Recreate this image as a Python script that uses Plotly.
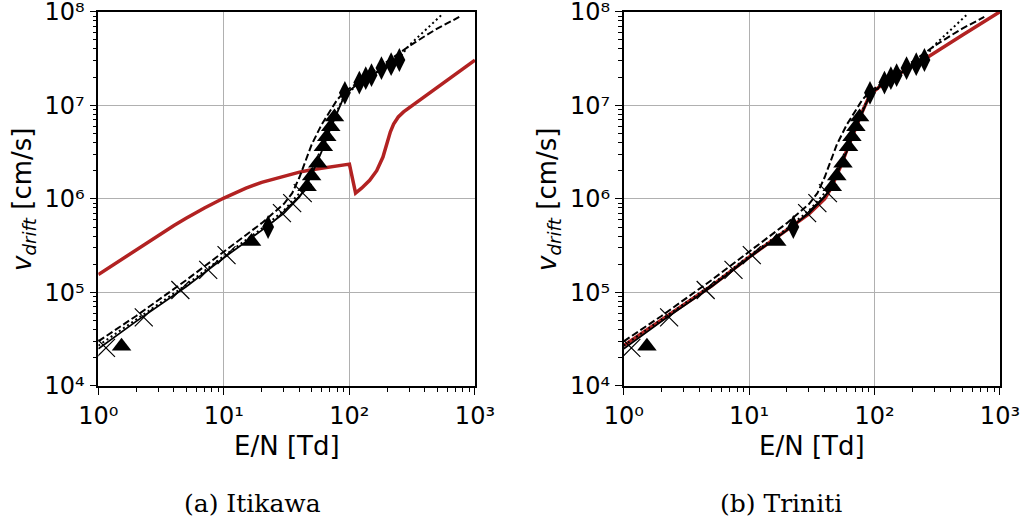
import plotly.graph_objects as go

# ---------------- data ----------------
# experimental markers (shared by both panels)
cross_x = [1.15, 2.3, 4.5, 7.5, 10.5, 29, 35, 42.5]
cross_y = [2.55e4, 5.4e4, 1.06e5, 1.74e5, 2.5e5, 7.05e5, 9.0e5, 1.15e6]

tri_x = [1.53, 16.6, 46, 50, 56, 62, 66, 71, 76]
tri_y = [2.65e4, 3.5e5, 1.35e6, 1.75e6, 2.4e6, 3.6e6, 4.6e6, 5.9e6, 7.5e6]

dia_x = [22.5, 92, 120, 135, 150, 180, 215, 250]
dia_y = [5.0e5, 1.36e7, 1.75e7, 1.95e7, 2.1e7, 2.5e7, 2.75e7, 3.05e7]

# reference curves (shared)
solid_x = [1, 2, 5, 10, 20, 30, 40, 45, 50, 55, 60, 70, 80, 92, 120, 150, 200, 250]
solid_y = [2.5e4, 4.9e4, 1.15e5, 2.35e5, 4.6e5, 7.0e5, 1.05e6, 1.35e6, 1.8e6, 2.4e6,
           3.2e6, 5.5e6, 8.5e6, 1.3e7, 1.75e7, 2.1e7, 2.6e7, 3.1e7]

dash_x = [1, 2, 5, 10, 20, 30, 35, 40, 45, 50, 60, 70, 80, 92, 120, 150, 200, 300, 400, 500, 750]
dash_y = [3.0e4, 5.6e4, 1.35e5, 2.75e5, 5.5e5, 8.8e5, 1.15e6, 1.7e6, 2.6e6, 3.8e6,
          6.2e6, 8.8e6, 1.15e7, 1.4e7, 1.8e7, 2.2e7, 2.9e7, 4.3e7, 5.5e7, 6.6e7, 8.8e7]

dot_x = [1, 2, 5, 10, 20, 30, 40, 45, 50, 60, 70, 80, 92, 150, 250, 300, 400, 540]
dot_y = [2.7e4, 5.1e4, 1.2e5, 2.45e5, 4.8e5, 7.5e5, 1.15e6, 1.5e6, 2.0e6, 3.5e6,
         5.8e6, 8.8e6, 1.3e7, 2.1e7, 3.2e7, 4.4e7, 6.3e7, 9.2e7]

# simulation, panel (a) Itikawa
red_a_x = [1, 1.5, 2, 3, 4, 5, 7, 10, 15, 20, 30, 40, 50, 70, 90, 100,
           112, 125, 145, 165, 185, 200, 212, 225, 245, 270, 308, 1000]
red_a_y = [1.55e5, 2.2e5, 2.85e5, 4.1e5, 5.2e5, 6.2e5, 8.0e5, 1.02e6, 1.3e6, 1.5e6,
           1.75e6, 1.93e6, 2.05e6, 2.2e6, 2.27e6, 2.35e6,
           1.15e6, 1.3e6, 1.58e6, 2.0e6, 2.8e6, 4.0e6, 5.2e6, 6.3e6, 7.5e6, 8.5e6, 9.7e6, 3.04e7]

# simulation, panel (b) Triniti
red_b_x = [1, 2, 5, 10, 20, 30, 40, 45, 50, 55, 60, 70, 80, 92, 120, 150, 200, 250, 500, 1000]
red_b_y = [2.7e4, 5.1e4, 1.17e5, 2.38e5, 4.6e5, 6.9e5, 1.0e6, 1.3e6, 1.8e6, 2.4e6,
           3.3e6, 5.6e6, 8.6e6, 1.3e7, 1.75e7, 2.1e7, 2.6e7, 3.1e7, 5.6e7, 1.0e8]

x_tickvals = [1, 10, 100, 1000]
x_ticktext = ["10\u2070", "10\u00b9", "10\u00b2", "10\u00b3"]
y_tickvals = [1e4, 1e5, 1e6, 1e7, 1e8]
y_ticktext = ["10\u2074", "10\u2075", "10\u2076", "10\u2077", "10\u2078"]

x_title = "E/N [Td]"
y_title = "<i>v</i><sub><i>drift</i></sub> [cm/s]"
captions = ["(a) Itikawa", "(b) Triniti"]

# minor tick positions (2..9 per decade)
x_minor = [m * 10 ** e for e in range(0, 3) for m in range(2, 10)]
y_minor = [m * 10 ** e for e in range(4, 8) for m in range(2, 10)]

# ---------------- figure ----------------
RED = "#b22222"
W, H = 1025, 526


def fx(px):  # pixel -> paper fraction
    return px / W


def fy(py):
    return 1 - py / H


fig = go.Figure()

panels = [("x", "y", red_a_x, red_a_y), ("x2", "y2", red_b_x, red_b_y)]
for xa, ya, rx, ry in panels:
    fig.add_trace(go.Scatter(x=rx, y=ry, mode="lines", line=dict(color=RED, width=3.5),
                             xaxis=xa, yaxis=ya, showlegend=False))
    fig.add_trace(go.Scatter(x=solid_x, y=solid_y, mode="lines", line=dict(color="black", width=1.8),
                             xaxis=xa, yaxis=ya, showlegend=False))
    fig.add_trace(go.Scatter(x=dash_x, y=dash_y, mode="lines",
                             line=dict(color="black", width=2, dash="7px,3px"),
                             xaxis=xa, yaxis=ya, showlegend=False))
    fig.add_trace(go.Scatter(x=dot_x, y=dot_y, mode="lines",
                             line=dict(color="black", width=2, dash="2px,3px"),
                             xaxis=xa, yaxis=ya, showlegend=False))
    fig.add_trace(go.Scatter(x=cross_x, y=cross_y, mode="markers",
                             marker=dict(symbol="x-thin", size=18, color="black",
                                         line=dict(color="black", width=1.2)),
                             xaxis=xa, yaxis=ya, showlegend=False))
    fig.add_trace(go.Scatter(x=tri_x, y=tri_y, mode="markers",
                             marker=dict(symbol="triangle-up", size=17, color="black"),
                             xaxis=xa, yaxis=ya, showlegend=False))
    fig.add_trace(go.Scatter(x=dia_x, y=dia_y, mode="markers",
                             marker=dict(symbol="diamond-tall", size=17, color="black"),
                             xaxis=xa, yaxis=ya, showlegend=False))

font_tick = dict(family="DejaVu Sans", size=24, color="black")
font_title = dict(family="DejaVu Sans", size=26, color="black")


def common(minor_vals):
    return dict(type="log", ticks="outside", ticklen=7, tickwidth=1.3, tickcolor="black",
                tickfont=font_tick, showline=True, linecolor="black", linewidth=1.6, mirror=True,
                showgrid=True, gridcolor="#b0b0b0", gridwidth=1, zeroline=False,
                ticklabeloverflow="allow",
                minor=dict(tickmode="array", tickvals=minor_vals, ticks="outside", ticklen=4,
                           tickwidth=1, tickcolor="black", showgrid=False),
                automargin=False)


def xaxis_cfg(left, right, anchor):
    d = common(x_minor)
    d.update(range=[-0.0005, 3.0005], domain=[fx(left), fx(right)], anchor=anchor,
             tickmode="array", tickvals=x_tickvals, ticktext=x_ticktext)
    return d


def yaxis_cfg(anchor):
    d = common(y_minor)
    d.update(range=[3.9995, 8.0005], domain=[fy(386), fy(11.7)], anchor=anchor,
             tickmode="array", tickvals=y_tickvals, ticktext=y_ticktext)
    return d


fig.update_layout(
    width=W, height=H, margin=dict(l=0, r=0, t=0, b=0),
    paper_bgcolor="white", plot_bgcolor="white",
    xaxis=xaxis_cfg(98.3, 475, "y"), yaxis=yaxis_cfg("x"),
    xaxis2=xaxis_cfg(623.7, 1000, "y2"), yaxis2=yaxis_cfg("x2"),
)

# axis titles and captions
for px_center, py_left in [(286.6, 23), (811.8, 548)]:
    fig.add_annotation(x=fx(px_center), y=fy(446), xref="paper", yref="paper", text=x_title,
                       showarrow=False, font=font_title, xanchor="center", yanchor="middle")
    fig.add_annotation(x=fx(py_left), y=fy(199), xref="paper", yref="paper", text=y_title,
                       showarrow=False, font=font_title, textangle=-90,
                       xanchor="center", yanchor="middle")

for cx, text in zip([252, 781], captions):
    fig.add_annotation(x=fx(cx), y=fy(503), xref="paper", yref="paper", text=text,
                       showarrow=False, font=dict(family="DejaVu Serif", size=25, color="black"),
                       xanchor="center", yanchor="middle")

fig.write_html("out.html", config={"displayModeBar": False},
               post_script="document.body.style.margin='0px';document.body.style.overflow='hidden';")
